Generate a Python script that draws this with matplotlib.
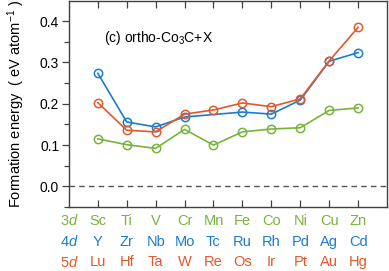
import matplotlib
matplotlib.use("Agg")
import matplotlib.pyplot as plt
import numpy as np

plt.rcParams['font.family'] = ['Liberation Sans', 'DejaVu Sans']
plt.rcParams['mathtext.fontset'] = 'custom'
plt.rcParams['mathtext.rm'] = 'Liberation Sans'
plt.rcParams['mathtext.it'] = 'Liberation Sans:italic'

# elements per row of the periodic table
el3d = ['Sc', 'Ti', 'V', 'Cr', 'Mn', 'Fe', 'Co', 'Ni', 'Cu', 'Zn']
el4d = ['Y', 'Zr', 'Nb', 'Mo', 'Tc', 'Ru', 'Rh', 'Pd', 'Ag', 'Cd']
el5d = ['Lu', 'Hf', 'Ta', 'W', 'Re', 'Os', 'Ir', 'Pt', 'Au', 'Hg']
rowNames = ['3$d$', '4$d$', '5$d$']

# formation energies (eV/atom); Tc missing
e3d = [0.115, 0.101, 0.092, 0.138, 0.100, 0.132, 0.139, 0.142, 0.184, 0.190]
e4d = [0.274, 0.156, 0.144, 0.168, np.nan, 0.180, 0.175, 0.209, 0.303, 0.324]
e5d = [0.203, 0.136, 0.132, 0.175, 0.185, 0.202, 0.193, 0.212, 0.304, 0.385]

cGreen = '#78b43c'
cBlue = '#1a7dcc'
cOrange = '#e3582a'
colors = [cGreen, cBlue, cOrange]

fig = plt.figure(figsize=(3.89, 2.71), dpi=100)
ax = fig.add_axes([0.177, 0.236, 0.818, 0.762])

x = np.arange(1, len(el3d) + 1)
ax.axhline(0, color='#555555', linestyle='--', linewidth=1.0, dashes=(4, 3))
for e, c in zip([e3d, e4d, e5d], colors):
    e = np.array(e)
    ok = ~np.isnan(e)
    ax.plot(x[ok], e[ok], color=c, linewidth=1.2, marker='o', markersize=6,
            markerfacecolor='none', markeredgewidth=1.1)

ax.set_xlim(0, 11)
ax.set_ylim(-0.05, 0.45)
ax.set_yticks([0.0, 0.1, 0.2, 0.3, 0.4])
ax.set_yticks(np.arange(-0.05, 0.45, 0.1), minor=True)
ax.set_yticklabels(['0.0', '0.1', '0.2', '0.3', '0.4'])
ax.set_xticks(x)
ax.set_xticklabels([])
ax.tick_params(axis='y', which='major', direction='out', length=5, width=0.9,
               color='#404040', labelsize=10, pad=2)
ax.tick_params(axis='y', which='minor', direction='out', length=3.5, width=0.9,
               color='#404040')
ax.tick_params(axis='x', which='major', direction='in', length=5, width=0.9,
               color='#404040', top=True, bottom=True)
for s in ax.spines.values():
    s.set_color('#404040')
    s.set_linewidth(1.0)

# element labels under the axis
rowY = [-0.083, -0.134, -0.184]
for rowEls, name, c, yy in zip([el3d, el4d, el5d], rowNames, colors, rowY):
    ax.text(0, yy, name, color=c, fontsize=10.5, ha='center', va='center',
            clip_on=False)
    for xi, el in zip(x, rowEls):
        ax.text(xi, yy, el, color=c, fontsize=10.5, ha='center', va='center',
                clip_on=False)

ax.text(1.2, 0.36, '(c) ortho-Co$_3$C+X', fontsize=10, ha='left', va='center')
ax.set_ylabel('Formation energy  ( eV atom$^{-1}$ )', fontsize=10.5, labelpad=9)

fig.savefig('out.png', dpi=100)
